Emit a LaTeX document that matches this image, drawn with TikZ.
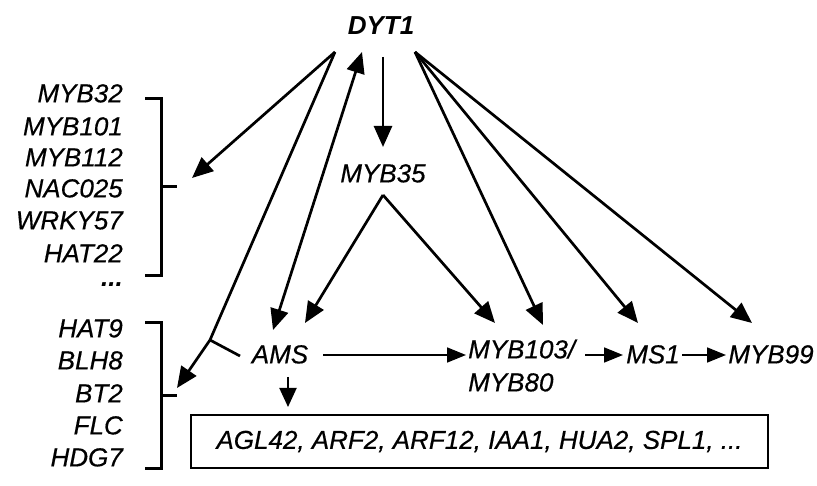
\documentclass[tikz,border=0pt]{standalone}
\usepackage{fontspec}
\setmainfont[ItalicFeatures={FakeBold=0.5}]{Liberation Sans}
\usetikzlibrary{arrows.meta}
\tikzset{
  gene/.style={inner sep=0pt, text height=18.7pt, text depth=0pt, font=\fontsize{26}{31}\selectfont\itshape},
  listgene/.style={gene, anchor=east},
  dots/.style={inner sep=0pt, anchor=base east, font=\fontsize{26}{31}\selectfont\itshape\bfseries},
  thick arrow/.style={line width=2.7pt, -{Triangle[length=21pt,width=18pt]}},
  both arrow/.style={line width=2.7pt, {Triangle[length=21pt,width=18pt]}-{Triangle[length=21pt,width=18pt]}},
  thin arrow/.style={line width=1.7pt, -{Triangle[length=19pt,width=15pt]}},
  bar/.style={line width=2.7pt},
  bracketline/.style={line width=3pt},
  targetbox/.style={draw, line width=2pt, minimum width=577pt, minimum height=53pt, inner sep=0pt, font=\fontsize{26}{31}\selectfont\itshape}
}
\begin{document}
\begin{tikzpicture}[x=1pt,y=-1pt]
\useasboundingbox (0,0) rectangle (817,486);
\clip (0,0) rectangle (817,486);
% main nodes
\node[gene, font=\fontsize{26}{31}\selectfont\itshape\bfseries] (dyt) at (381,25) {DYT1};
\node[gene] (myb35) at (383,173) {MYB35};
\node[gene] (ams) at (280,354) {AMS};
\node[gene, anchor=west] (myb103) at (468,349) {MYB103/};
\node[gene, anchor=west] (myb80) at (468,382) {MYB80};
\node[gene] (ms1) at (653,354) {MS1};
\node[gene] (myb99) at (771,354) {MYB99};
\node[targetbox] (box) at (479.5,441.5) {AGL42, ARF2, ARF12, IAA1, HUA2, SPL1, ...};
% left lists
\node[listgene] (l1a) at (123,93) {MYB32};
\node[listgene] (l1b) at (123,126) {MYB101};
\node[listgene] (l1c) at (123,157) {MYB112};
\node[listgene] (l1d) at (123,188) {NAC025};
\node[listgene] (l1e) at (123,220) {WRKY57};
\node[listgene] (l1f) at (123,253) {HAT22};
\node[dots] (l1g) at (123,287) {...};
\node[listgene] (l2a) at (123,328) {HAT9};
\node[listgene] (l2b) at (123,360) {BLH8};
\node[listgene] (l2c) at (123,393) {BT2};
\node[listgene] (l2d) at (123,425) {FLC};
\node[listgene] (l2e) at (123,457) {HDG7};
\node[dots] (l2f) at (123,491) {...};
% brackets
\coordinate (b1t) at (145,99);
\coordinate (b1b) at (145,276);
\coordinate (b1m) at (177,187);
\coordinate (b2t) at (145,323);
\coordinate (b2b) at (145,468);
\coordinate (b2m) at (177,396);
\draw[bracketline] (b1t) -| (161,276) -- (b1b);
\draw[bracketline] (161,187) -- (b1m);
\draw[bracketline] (b2t) -| (161,468) -- (b2b);
\draw[bracketline] (161,396) -- (b2m);
% connector anchor points
\coordinate (dytL) at (335,52);
\coordinate (dytM) at (362,52);
\coordinate (dytD) at (383,57);
\coordinate (dytR) at (415,52);
\coordinate (myb35top) at (383,147);
\coordinate (myb35bot) at (383,195);
\coordinate (l1tip) at (192,178);
\coordinate (junc) at (210,340);
\coordinate (l2tip) at (177,388);
\coordinate (amsbar) at (240,356);
\coordinate (amsTipA) at (273,330);
\coordinate (amsTipB) at (305,323);
\coordinate (mybTipA) at (495,323);
\coordinate (mybTipB) at (543,325);
\coordinate (ms1Tip) at (638,323);
\coordinate (myb99Tip) at (752,323);
\coordinate (amsR) at (323,355);
\coordinate (mybL) at (466,355);
\coordinate (amsD) at (288,377);
\coordinate (boxT) at (288,407);
\coordinate (myb103R) at (585,355);
\coordinate (ms1L) at (623,355);
\coordinate (ms1R) at (682,355);
\coordinate (myb99L) at (726,355);
% connectors
\draw[thick arrow] (dytL) -- (l1tip);
\draw[thick arrow] (dytL) -- (junc) -- (l2tip);
\draw[bar] (amsbar) -- (junc);
\draw[both arrow] (amsTipA) -- (dytM);
\draw[thick arrow] (dytD) -- (myb35top);
\draw[thick arrow] (myb35bot) -- (amsTipB);
\draw[thick arrow] (myb35bot) -- (mybTipA);
\draw[thick arrow] (dytR) -- (mybTipB);
\draw[thick arrow] (dytR) -- (ms1Tip);
\draw[thick arrow] (dytR) -- (myb99Tip);
\draw[thin arrow] (amsR) -- (mybL);
\draw[thin arrow] (myb103R) -- (ms1L);
\draw[thin arrow] (ms1R) -- (myb99L);
\draw[line width=2pt, -{Triangle[length=19pt,width=17pt]}] (amsD) -- (boxT);
\end{tikzpicture}
\end{document}
